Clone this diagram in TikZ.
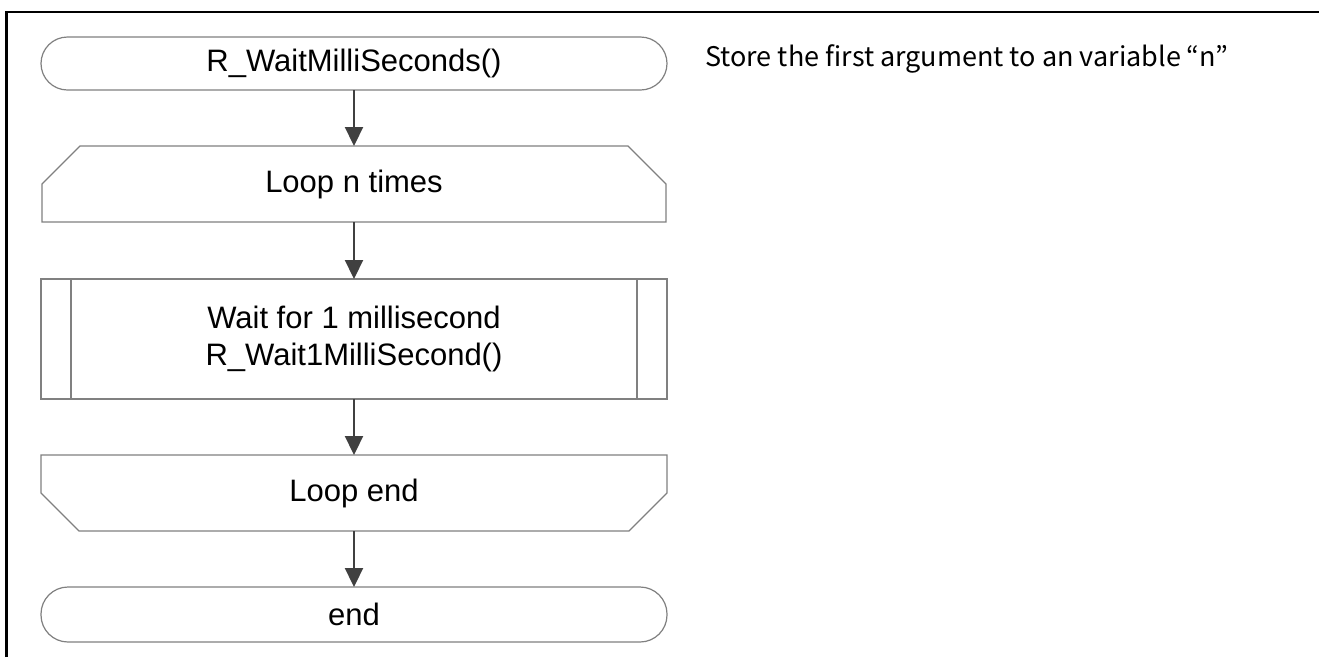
\documentclass[tikz,border=0pt]{standalone}
\usepackage{fontspec}
\setmainfont{Liberation Sans}
\newfontfamily\jpfont{Noto Sans CJK JP}
\usetikzlibrary{arrows.meta}
\begin{document}
\begin{tikzpicture}[x=1pt,y=-1pt,
  shapeline/.style={draw=black!50, line width=1.2pt},
  flow/.style={draw=black!75, line width=2.2pt, -{Triangle[width=18pt,length=19pt]}},
  lbl/.style={font=\fontsize{31}{37}\selectfont, align=center, inner sep=0pt},
  note/.style={font=\jpfont\fontsize{27}{31}\selectfont, anchor=base west, inner sep=0pt}]
\useasboundingbox (0,0) rectangle (1319,657);
\fill[white] (0,0) rectangle (1319,657);
% frame (left and top only visible)
\draw[line width=2.5pt] (6.5,657) -- (6.5,12) -- (1319,12);
% start terminator
\draw[shapeline, rounded corners=26.5pt] (41,37) rectangle (667,90);
\node[lbl] (start) at (354,63.5) {R\_WaitMilliSeconds()};
\coordinate (startb) at (354,90);
% loop start
\draw[shapeline] (42,222) -- (42,184) -- (80,146) -- (628,146) -- (666,184) -- (666,222) -- cycle;
\node[lbl] (loop) at (354,184) {Loop n times};
\coordinate (loopt) at (354,146);
\coordinate (loopb) at (354,222);
% process
\draw[shapeline] (41,279) rectangle (667,399);
\draw[shapeline] (71,279) -- (71,399) (637,279) -- (637,399);
\node[lbl] (wait) at (354,339) {Wait for 1 millisecond\\R\_Wait1MilliSecond()};
\coordinate (waitt) at (354,279);
\coordinate (waitb) at (354,399);
% loop end
\draw[shapeline] (41,455) -- (667,455) -- (667,493) -- (629,531) -- (79,531) -- (41,493) -- cycle;
\node[lbl] (lend) at (354,493) {Loop end};
\coordinate (lendt) at (354,455);
\coordinate (lendb) at (354,531);
% end terminator
\draw[shapeline, rounded corners=27pt] (41,587) rectangle (667,642);
\node[lbl] (fin) at (354,614.5) {end};
\coordinate (fint) at (354,587);
% arrows
\draw[flow] (startb) -- (loopt);
\draw[flow] (loopb) -- (waitt);
\draw[flow] (waitb) -- (lendt);
\draw[flow] (lendb) -- (fint);
% note
\node[note] (notetext) at (705,66) {Store the first argument to an variable “n”};
\end{tikzpicture}
\end{document}
